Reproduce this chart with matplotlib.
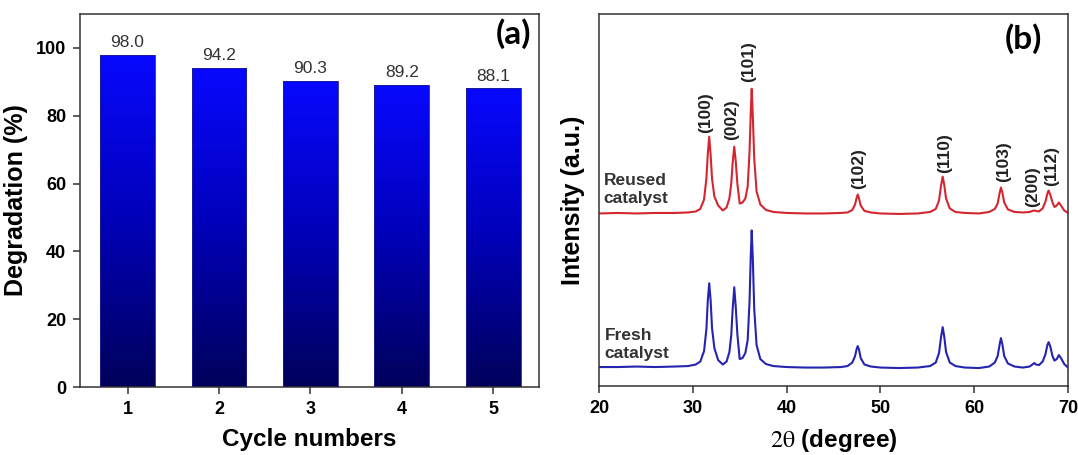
import numpy as np
import matplotlib
matplotlib.use('Agg')
import matplotlib.pyplot as plt
from matplotlib.colors import LinearSegmentedColormap

plt.rcParams['font.family'] = ['Liberation Sans', 'DejaVu Sans']
plt.rcParams['mathtext.fontset'] = 'stix'

# ── panel (a): degradation per cycle ─────────────────────────────────────────
cycles = [1, 2, 3, 4, 5]
degradation = [98.0, 94.2, 90.3, 89.2, 88.1]

# ── panel (b): XRD patterns (2θ in degree, intensity in a.u.) ───────────────
two_theta = [20.0, 22.0, 24.0, 26.0, 28.0, 29.5, 30.3, 30.8, 31.2, 31.45,
             31.6, 31.75, 31.9, 32.05, 32.3, 32.7, 33.2, 33.6, 33.9, 34.1,
             34.25, 34.42, 34.58, 34.75, 35.0, 35.3, 35.6, 35.85, 36.05, 36.18,
             36.28, 36.4, 36.55, 36.8, 37.2, 37.8, 38.6, 40.0, 42.0, 44.0,
             45.8, 46.5, 47.0, 47.3, 47.45, 47.58, 47.72, 47.9, 48.3, 49.0,
             50.0, 52.0, 54.0, 55.3, 55.9, 56.25, 56.45, 56.64, 56.8, 57.0,
             57.4, 58.0, 59.0, 60.5, 61.6, 62.2, 62.5, 62.7, 62.85, 63.0,
             63.2, 63.6, 64.3, 65.2, 65.9, 66.2, 66.4, 66.6, 66.9, 67.3,
             67.6, 67.8, 67.93, 68.1, 68.35, 68.55, 68.8, 69.03, 69.25, 69.6,
             70.0]

reused = [173, 173.5, 173, 173.5, 173.5, 174, 175, 177.5, 187, 208,
          233, 250, 232, 208, 190, 181, 176, 179, 188, 203,
          224, 240, 225, 203, 183, 184, 188, 200, 235, 275,
          298, 270, 228, 195, 182, 176.5, 174.5, 173.5, 173, 173,
          173.5, 174, 176.5, 182, 188, 192, 188, 181, 175.5, 174,
          173, 172.5, 173, 174.5, 177.5, 186, 200, 210, 202, 188,
          178, 174.5, 173.5, 173, 174.5, 177.5, 183, 193, 199, 194,
          184, 177, 174.5, 174, 174.5, 175.5, 176, 175.5, 175, 178,
          185, 193, 196, 192, 184, 179.5, 181, 184, 181, 176,
          173.5]

fresh = [19, 19, 19.5, 19, 19.5, 20, 21.5, 24.5, 35, 57,
         86, 103, 86, 58, 38, 26, 21.5, 24.5, 34, 51,
         77, 99, 79, 52, 27, 28, 33, 46, 85, 131,
         156, 127, 77, 41, 27, 22, 20, 19, 18.5, 18.5,
         19, 20, 23.5, 30, 36.5, 40, 36.5, 28, 21.5, 19.5,
         18.5, 18, 18.5, 20, 23.5, 33, 48, 59, 50, 34,
         23.5, 20, 18.5, 18, 19.5, 23.5, 30, 41, 48, 42,
         30, 22.5, 19.5, 18.5, 19.5, 21.5, 23, 21.5, 21, 24.5,
         32, 41, 44, 40, 30, 25.5, 27, 31, 28, 22,
         18.5]

# peak labels: (text, 2θ position, bottom of label in a.u.)
hkl_labels = ['(100)', '(002)', '(101)', '(102)', '(110)', '(103)', '(200)', '(112)']
hkl_pos = [31.4, 34.1, 36.0, 47.7, 56.9, 63.1, 66.2, 68.3]
hkl_base = [254, 247, 305, 198, 214, 205, 179, 201]

fig = plt.figure(figsize=(10.78, 4.55), dpi=100)
ax1 = fig.add_axes([80 / 1078, 68 / 455, 459 / 1078, 373 / 455])
ax2 = fig.add_axes([599 / 1078, 69 / 455, 469 / 1078, 372 / 455])

# ── (a) gradient bars ────────────────────────────────────────────────────────
cmap = LinearSegmentedColormap.from_list('bar', ['#00005a', '#0000b8', '#0808ff'])
grad = np.linspace(0, 1, 256).reshape(-1, 1)

bars = ax1.bar(cycles, degradation, width=0.6, color='none',
               edgecolor='#20208a', linewidth=0.6, zorder=3)
for b, v in zip(bars, degradation):
    x0, w, h = b.get_x(), b.get_width(), b.get_height()
    im = ax1.imshow(grad, cmap=cmap, origin='lower', aspect='auto',
                    extent=[x0, x0 + w, 0, h], zorder=2)
    im.set_clip_path(b)
    ax1.text(x0 + w / 2, h + 1.3, f'{v:.1f}', ha='center', va='bottom',
             fontsize=12.5, color='#333333')

ax1.set_xlim(0.48, 5.5)
ax1.set_ylim(0, 110)
ax1.set_xticks(cycles)
ax1.set_yticks([0, 20, 40, 60, 80, 100])
ax1.set_xlabel('Cycle numbers', fontsize=17.5, fontweight='bold', labelpad=7)
ax1.set_ylabel('Degradation (%)', fontsize=18, fontweight='bold', labelpad=6)
ax1.text(0.983, 0.99, '(a)', transform=ax1.transAxes, ha='right', va='top',
         fontsize=24, fontweight='bold', family='Lato')

# ── (b) XRD ──────────────────────────────────────────────────────────────────
ax2.plot(two_theta, reused, color='#d42630', linewidth=1.5)
ax2.plot(two_theta, fresh, color='#2424b0', linewidth=1.5)

for lab, xp, yb in zip(hkl_labels, hkl_pos, hkl_base):
    ax2.text(xp, yb, lab, rotation=90, ha='center', va='bottom',
             fontsize=12.5, fontweight='bold', color='#222222')

ax2.text(20.5, 180, 'Reused\ncatalyst', ha='left', va='bottom', fontsize=12.5,
         fontweight='bold', color='#333333', linespacing=1.25)
ax2.text(20.6, 25, 'Fresh\ncatalyst', ha='left', va='bottom', fontsize=12.5,
         fontweight='bold', color='#333333', linespacing=1.25)

ax2.set_xlim(20, 70)
ax2.set_ylim(0, 373)
ax2.set_xticks([20, 30, 40, 50, 60, 70])
ax2.set_yticks([])
ax2.set_xlabel(r'$\mathrm{2\theta}$ (degree)', fontsize=17.5, fontweight='bold', labelpad=7)
ax2.set_ylabel('Intensity (a.u.)', fontsize=18, fontweight='bold', labelpad=10)
ax2.text(0.945, 0.975, '(b)', transform=ax2.transAxes, ha='right', va='top',
         fontsize=24, fontweight='bold', family='Lato')

for ax in (ax1, ax2):
    for s in ax.spines.values():
        s.set_linewidth(1.1)
        s.set_color('#333333')
    ax.tick_params(direction='out', length=5, width=1.1, color='#333333',
                   labelsize=13, pad=5)
    for t in ax.get_xticklabels() + ax.get_yticklabels():
        t.set_fontweight('bold')

fig.savefig('out.png', dpi=100)
